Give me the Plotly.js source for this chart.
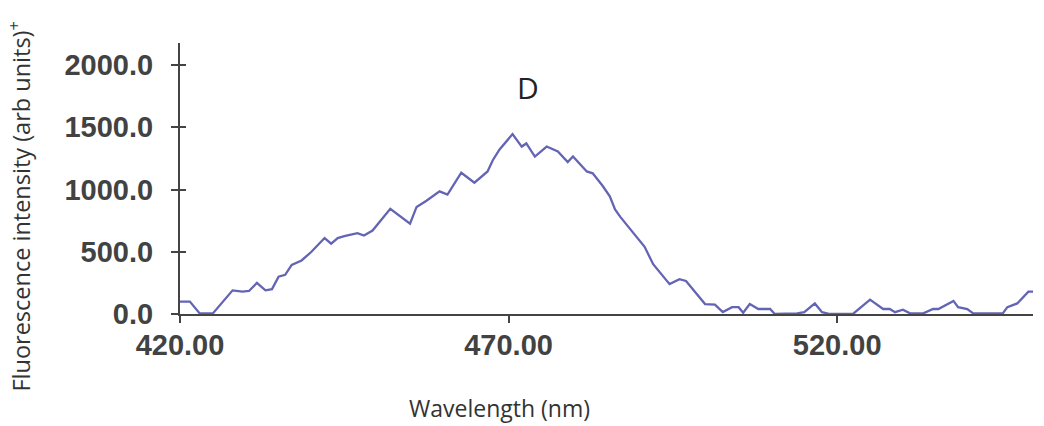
<!DOCTYPE html>
<html>
<head>
<meta charset="utf-8">
<script src="https://cdn.plot.ly/plotly-3.0.1.min.js"></script>
<style>html,body{margin:0;padding:0;background:#fff;}#chart{width:1044px;height:426px;}</style>
</head>
<body>
<div id="chart"></div>
<script>
var wavelength = [420,421.5,423,425,428,429.5,430.5,431.7,433,434,435,436,437,438.5,440,442,443,444,445,447,448,449.3,452,455,456,457.5,459.5,460.7,462.8,464.8,466.8,467.6,468.6,470.6,472,472.7,474,475.8,477.5,479,479.8,481.9,482.8,484.3,485.4,486.2,487,488.9,490.7,492,494.5,496,497,499.9,501.4,502.6,504,505,505.7,506.7,508,509.8,510.5,513.9,515,516.6,517.7,518.9,522.4,525,527,528,528.8,530,531.1,533.1,534.6,535.4,537.7,538.4,539.8,540.7,545.2,545.9,547.4,549.1,549.9];
var intensity = [100,100,5,5,190,180,185,250,190,200,300,315,395,430,500,610,565,610,625,650,630,670,845,725,860,910,985,960,1135,1055,1145,1235,1320,1445,1345,1370,1265,1345,1305,1220,1265,1145,1130,1030,945,840,780,660,540,400,240,280,265,80,75,15,55,55,10,80,40,40,0,5,15,85,15,0,0,115,40,40,15,35,5,5,40,40,105,55,40,5,5,55,85,180,180];
var xTicks = [420,470,520];
var xTickLabels = ["420.00","470.00","520.00"];
var yTicks = [0,500,1000,1500,2000];
var yTickLabels = ["0.0","500.0","1000.0","1500.0","2000.0"];
var panelLabel = "D";
var xTitle = "Wavelength (nm)";
var yTitle = "Fluorescence intensity (arb units)<sup>+</sup>";

var tickFont = {family:"Liberation Sans, Arial, sans-serif", size:29, color:"#424242", weight:"bold"};
var titleFont = {family:"Open Sans, sans-serif", size:23, color:"#333"};

var trace = {
  x: wavelength, y: intensity, type:"scatter", mode:"lines",
  line:{color:"#6464b4", width:2.3}, hoverinfo:"skip", showlegend:false
};
var trace2 = {
  x: wavelength, y: intensity, type:"scatter", mode:"lines", yaxis:"y2",
  line:{color:"rgba(0,0,0,0)", width:0}, hoverinfo:"skip", showlegend:false
};

var layout = {
  width:1044, height:426,
  margin:{l:180, r:11, t:43, b:112},
  paper_bgcolor:"#fff", plot_bgcolor:"#fff",
  xaxis:{
    range:[420,549.8], showgrid:false, zeroline:false,
    showline:true, linecolor:"#444", linewidth:2,
    tickmode:"array", tickvals:xTicks, ticktext:xTickLabels,
    ticks:"outside", ticklen:7, tickwidth:2, tickcolor:"#444",
    tickfont:tickFont, ticklabelstandoff:-3
  },
  yaxis:{
    range:[0,2177], showgrid:false, zeroline:false,
    showline:true, linecolor:"#444", linewidth:2,
    tickmode:"array", tickvals:yTicks, ticktext:yTickLabels,
    ticks:"outside", ticklen:7, tickwidth:2, tickcolor:"#444",
    tickfont:tickFont, ticklabelstandoff:12
  },
  yaxis2:{
    overlaying:"y", matches:"y", side:"left", showgrid:false, zeroline:false,
    showline:false, tickmode:"array", tickvals:yTicks, showticklabels:false,
    ticks:"inside", ticklen:6, tickwidth:2, tickcolor:"#444"
  },
  annotations:[
    {text:panelLabel, xref:"x", yref:"y", x:473, y:1820, showarrow:false,
     font:{family:"Open Sans, sans-serif", size:30, color:"#222"}},
    {text:xTitle, xref:"paper", yref:"paper", x:0.375, y:-0.347, showarrow:false,
     xanchor:"center", yanchor:"middle", font:titleFont},
    {text:yTitle, xref:"paper", yref:"paper", x:-0.1876, y:0.40, showarrow:false,
     textangle:-90, xanchor:"center", yanchor:"middle",
     font:{family:"Open Sans, sans-serif", size:23.5, color:"#333"}}
  ]
};

Plotly.newPlot("chart", [trace, trace2], layout, {displayModeBar:false, staticPlot:true});
</script>
</body>
</html>
